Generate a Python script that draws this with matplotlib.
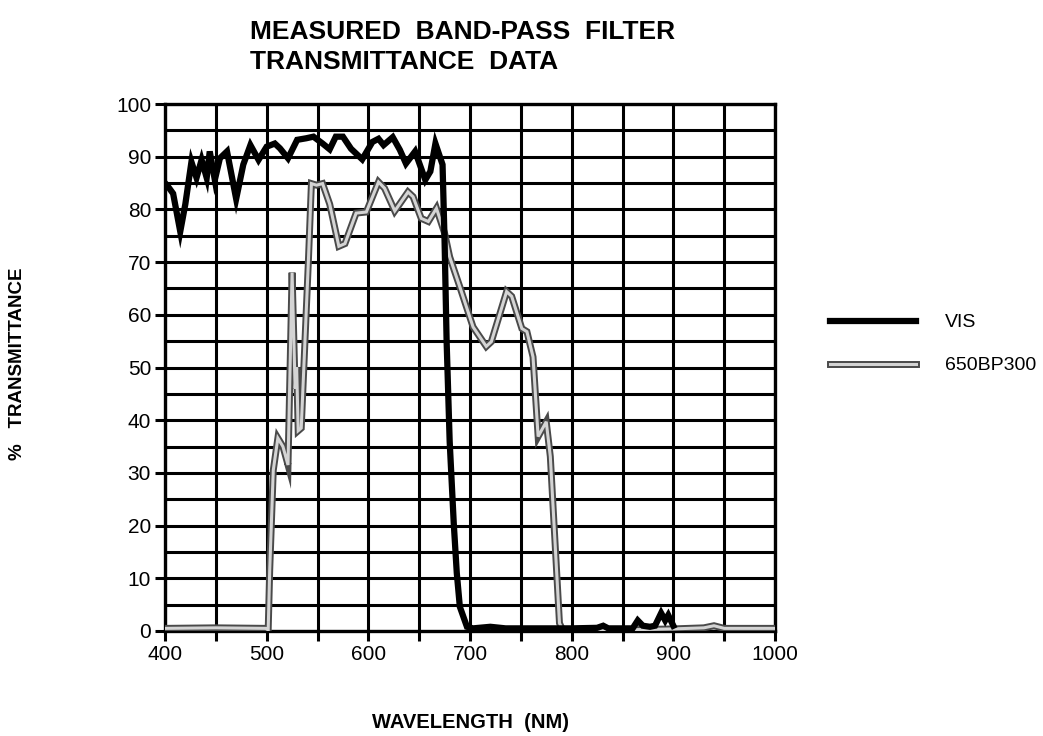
import numpy as np
import matplotlib
matplotlib.use("Agg")
import matplotlib.pyplot as plt
import matplotlib.patheffects as pe
from matplotlib.ticker import MultipleLocator

plt.rcParams['font.family'] = ['Liberation Sans', 'DejaVu Sans']

# VIS filter transmittance (%)
wl_vis = [400, 402, 408, 415, 420, 426, 431, 436, 441, 444, 449, 454, 461, 470,
          477, 484, 492, 500, 508, 513, 521, 530, 539, 546, 555, 562, 568, 575,
          583, 594, 604, 610, 615, 624, 631, 637, 646, 656, 661, 666, 673, 675,
          677, 680, 684, 687, 690, 697, 703, 720, 735, 760, 800, 825, 831, 836,
          860, 865, 870, 877, 882, 888, 892, 895, 900]
vis = [85, 84.6, 83, 75.8, 81, 89, 86, 89.4, 86, 91, 85.6, 89.7, 91, 82,
       88.5, 92.2, 89.4, 91.9, 92.5, 91.6, 89.7, 93.2, 93.5, 93.8, 92.5, 91.4, 93.8, 93.8,
       91.5, 89.5, 92.8, 93.4, 92.2, 93.7, 91.3, 88.7, 91, 85.6, 87.2, 92.5, 88.5, 74,
       55, 36, 20.5, 11, 4.6, 0.8, 0.5, 0.8, 0.5, 0.5, 0.5, 0.6, 1.0, 0.5,
       0.5, 2.0, 1.0, 0.8, 1.0, 3.4, 2.0, 3.0, 1.0]

# 650BP300 filter transmittance (%)
wl_bp = [400, 450, 499, 501.5, 503, 506.5, 511, 516, 521, 525, 528, 529.5, 531,
         534, 541, 544, 549, 555, 562, 571, 577, 588, 598, 610, 616, 626, 639,
         644, 652, 659, 667, 675, 680, 690, 703, 716, 721, 736, 741, 751, 756,
         762, 767, 775, 779, 788, 791, 850, 900, 930, 940, 950, 1000]
bp = [0.5, 0.6, 0.5, 0.2, 11.6, 30.5, 36.6, 35, 31.5, 68, 46, 50, 38,
      38.5, 70, 84.9, 84.6, 84.9, 81, 73, 73.5, 79.3, 79.5, 85.2, 84, 79.7, 83.3,
      82.4, 78.3, 77.7, 80.2, 75.5, 71, 65.3, 57.7, 54, 54.9, 64.4, 63.5, 57.4, 56.8,
      52, 36.9, 39.7, 33.1, 1.5, 0.2, 0.2, 0.4, 0.6, 1.0, 0.5, 0.5]

fig = plt.figure(figsize=(10.43, 7.36), dpi=100)
ax = fig.add_axes([165/1043, 1 - 631/736, 610/1043, 527/736])

ax.plot(wl_bp, bp, color='#d4d4d4', lw=2.2, label='650BP300', zorder=3,
        solid_joinstyle='miter',
        path_effects=[pe.Stroke(linewidth=5, foreground='#4a4a4a'), pe.Normal()])
ax.plot(wl_vis, vis, color='black', lw=4.5, label='VIS', zorder=4,
        solid_joinstyle='miter')

ax.set_xlim(400, 1000)
ax.set_ylim(0, 100)
ax.xaxis.set_major_locator(MultipleLocator(100))
ax.xaxis.set_minor_locator(MultipleLocator(50))
ax.yaxis.set_major_locator(MultipleLocator(10))
ax.yaxis.set_minor_locator(MultipleLocator(5))
ax.grid(which='both', color='black', lw=2.2)
ax.set_axisbelow(True)
for s in ax.spines.values():
    s.set_linewidth(2.4)
ax.tick_params(which='major', length=7, width=2.2, labelsize=15, pad=3)
ax.tick_params(axis='x', which='minor', length=7, width=2.2)
ax.tick_params(axis='y', which='minor', length=0)

fig.text(470/1043, 1 - 722/736, 'WAVELENGTH  (NM)', fontsize=14.5,
         fontweight='bold', ha='center', va='center')
fig.text(18/1043, 1 - 364/736, '%   TRANSMITTANCE', fontsize=13.5,
         fontweight='bold', ha='center', va='center', rotation=90)

fig.text(250/1043, 1 - 20/736, 'MEASURED  BAND-PASS  FILTER\nTRANSMITTANCE  DATA',
         fontsize=19, fontweight='bold', va='top', ha='left', linespacing=1.3)

handles, labels = ax.get_legend_handles_labels()
ax.legend(handles[::-1], labels[::-1], loc='upper left', bbox_to_anchor=(1.062, 0.635),
          frameon=False, fontsize=14, handlelength=4.4, handletextpad=1.5,
          labelspacing=1.3)

fig.savefig('out.png', dpi=100)
